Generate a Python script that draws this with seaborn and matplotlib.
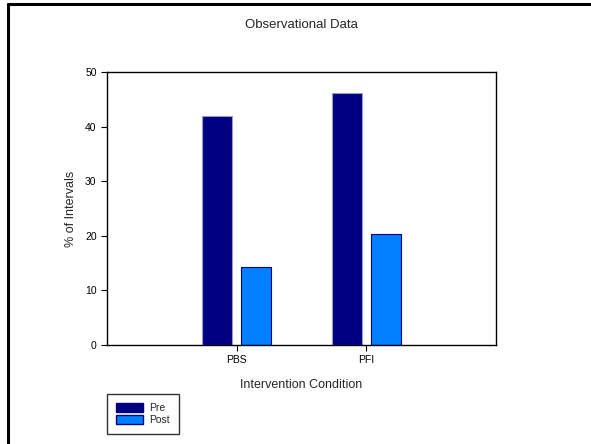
import pandas as pd
import matplotlib.pyplot as plt
import seaborn as sns
from matplotlib.lines import Line2D

conditions = ['PBS', 'PFI']
phases = ['Pre', 'Post']
pre_values = [42.0, 46.2]
post_values = [14.3, 20.4]

df = pd.DataFrame({
    'condition': conditions * 2,
    'phase': ['Pre'] * 2 + ['Post'] * 2,
    'value': pre_values + post_values,
})

sns.set_style('white')
plt.rcParams['font.family'] = ['Liberation Sans', 'DejaVu Sans']

fig = plt.figure(figsize=(5.91, 4.44), dpi=100)
ax = fig.add_axes([107 / 591, 1 - 345 / 444, 389 / 591, 273 / 444])

palette = {'Pre': '#000080', 'Post': '#0080FF'}
sns.barplot(data=df, x='condition', y='value', hue='phase', hue_order=phases,
            palette=palette, width=0.6, gap=0.24, saturation=1, ax=ax)

edges = {'Pre': '#9999CC', 'Post': '#000080'}
for cont, ph in zip(ax.containers, phases):
    for bar in cont:
        bar.set_edgecolor(edges[ph])
        bar.set_linewidth(0.8)

ax.set_xlim(-1, 2)
ax.set_ylim(0, 50)
ax.set_yticks([0, 10, 20, 30, 40, 50])
for s in ax.spines.values():
    s.set_color('black')
    s.set_linewidth(1.0)
ax.tick_params(axis='both', which='both', direction='out', length=4, width=0.8,
               colors='black', labelsize=7.5, bottom=True, left=True)
ax.set_xlabel('Intervention Condition', fontsize=9, labelpad=10)
ax.set_ylabel('% of Intervals', fontsize=9, labelpad=5.5)
fig.text(301.5 / 591, 1 - 25.5 / 444, 'Observational Data', ha='center', va='center', fontsize=9.5)

handles, labels = ax.get_legend_handles_labels()
for h in handles:
    h.set_edgecolor('#000080')
leg = ax.legend(handles, labels, loc='upper left',
                bbox_to_anchor=(107 / 591, 1 - 394 / 444), bbox_transform=fig.transFigure,
                fontsize=7.5, frameon=True, fancybox=False, edgecolor='black',
                handlelength=2.6, handleheight=0.9, handletextpad=0.5,
                labelspacing=0.15, borderpad=0.9, borderaxespad=0)
leg.get_frame().set_linewidth(1.0)

# figure border (left and top only)
fig.add_artist(Line2D([7.5 / 591, 7.5 / 591], [0, 1 - 4.5 / 444], color='black',
                      lw=2.2, transform=fig.transFigure))
fig.add_artist(Line2D([7.5 / 591, 1], [1 - 4.5 / 444, 1 - 4.5 / 444], color='black',
                      lw=2.2, transform=fig.transFigure))

fig.savefig('out.png', dpi=100)
